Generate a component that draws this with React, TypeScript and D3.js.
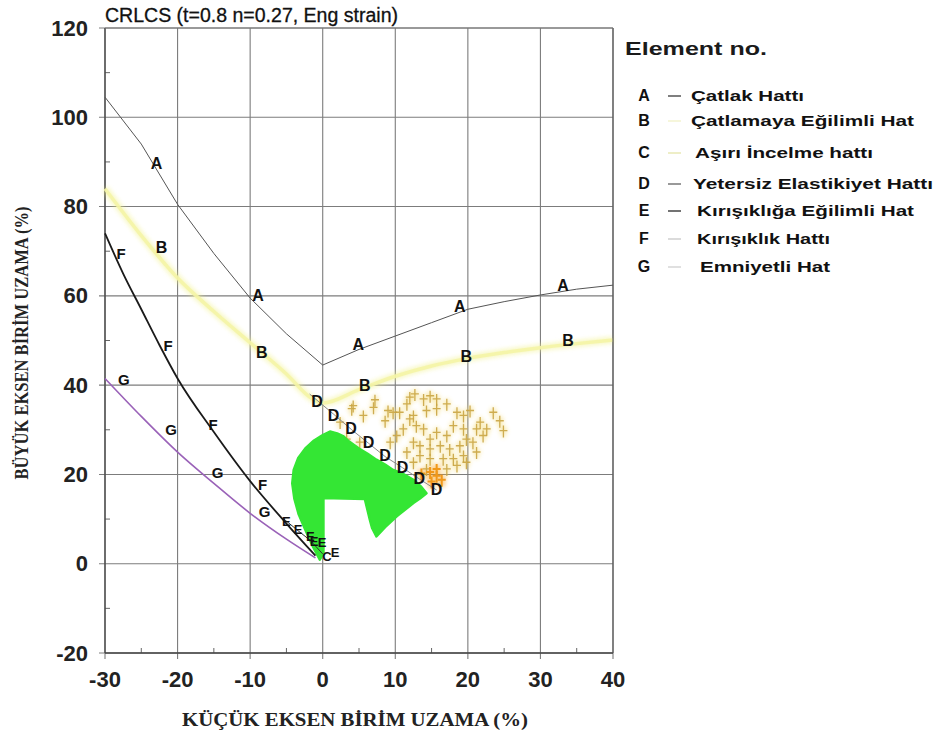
import React from "react";
import * as d3 from "d3";

type P = [number, number];

// axis ticks
const xTicks = [-30, -20, -10, 0, 10, 20, 30, 40];
const yTicks = [-20, 0, 20, 40, 60, 80, 100, 120];
const xMinorTicks = [-25, -15, -5, 5, 15, 25, 35];
const yMinorTicks = [-10, 10, 30, 50, 70, 90, 110];

// limit lines (minor strain %, major strain %)
const lineA: P[] = [[-30, 104.5], [-25, 94], [-20, 80.5], [-15, 69.5], [-10, 59.5], [-5, 51.5], [0, 44.5], [5, 48], [10, 51], [15, 54], [20, 57], [25, 58.7], [30, 60.2], [35, 61.5], [40, 62.4]];
const lineB: P[] = [[-30, 84], [-25, 73.5], [-20, 64], [-15, 56.5], [-10, 49.5], [-5, 42.5], [-1.5, 37], [0, 36], [5, 39], [10, 42], [15, 44.3], [20, 46], [25, 47.3], [30, 48.4], [35, 49.3], [40, 50.1]];
const lineD: P[] = [[-1.8, 38], [1.5, 33.5], [4, 30], [6.3, 27], [8.6, 24], [11, 21.5], [13.3, 19], [15.7, 16.5]];
const lineE: P[] = [[-5.5, 10.2], [-3.4, 7.4], [-1.7, 5.2], [0, 2.2]];
const lineF: P[] = [[-30, 74], [-27.5, 65], [-25, 57], [-22.5, 49], [-20, 41.5], [-15, 29.5], [-10, 18.5], [-5, 9], [-1, 1.8]];
const lineG: P[] = [[-30, 41.5], [-25, 33], [-20, 25], [-15, 18], [-10, 11.3], [-5, 5.5], [-1, 1.3]];

// letter markers along each line
const labelsA: P[] = [[-22.9, 89.6], [-8.9, 60], [4.9, 49], [18.9, 57.6], [33.1, 62.4]];
const labelsB: P[] = [[-22.2, 70.9], [-8.4, 47.4], [5.8, 40], [19.8, 46.5], [33.8, 50.1]];
const labelsC: P[] = [[0.6, 1.6]];
const labelsD: P[] = [[-0.8, 36.3], [1.5, 33.3], [3.9, 30.2], [6.3, 27.1], [8.6, 24.2], [11, 21.6], [13.3, 19], [15.7, 16.6]];
const labelsE: P[] = [[-5, 9.5], [-3.4, 7.6], [-1.7, 6.1], [-1.2, 5], [-0.1, 4.7], [1.7, 2.5]];
const labelsF: P[] = [[-27.8, 69.4], [-21.3, 48.8], [-15.1, 31.1], [-8.3, 17.7]];
const labelsG: P[] = [[-27.4, 41.2], [-20.9, 30], [-14.5, 20.4], [-8, 11.6]];

// outline of the dense green element cloud
const greenCloud: P[] = [
  [-0.4, 0.9], [-1.4, 4], [-2.4, 7.6], [-3.3, 11], [-3.9, 14.5], [-4.2, 18], [-4.0, 21], [-3.4, 23.6],
  [-2.4, 25.8], [-1.2, 27.6], [0, 28.8], [1, 29.6], [2, 29.2], [2.8, 28.6], [3.6, 27.4], [5, 25.8],
  [6.2, 24.6], [7.4, 23.3], [8.6, 22.2], [9.7, 21], [11, 20.2], [12.5, 18.8], [13.6, 17.2], [14.3, 15.8],
  [13.4, 14.6], [12.5, 13.6], [10.2, 10.6], [8.6, 8.2], [7.4, 6.1], [6.8, 8], [6.5, 9.8], [5.8, 14.5],
  [0.1, 14.7], [0.1, 2.4],
];

// scattered element strains (tan crosses)
const tanPoints: P[] = [
  [12.0, 37.1], [12.7, 37.8], [13.9, 36.7], [14.8, 37.4], [15.7, 36.7], [17.1, 35.6], [11.6, 35.6], [9.7, 33.7],
  [9.0, 34.1], [7.0, 34.8], [5.6, 33.0], [4.0, 34.5], [8.6, 31.8], [10.6, 33.7], [12.5, 33.0], [14.3, 34.1],
  [15.7, 34.5], [18.5, 33.7], [19.4, 33.0], [20.3, 34.1], [21.7, 31.5], [23.5, 33.7], [24.4, 31.8], [24.9, 29.6],
  [22.6, 30.0], [21.2, 30.0], [19.4, 30.0], [18.0, 30.7], [17.1, 28.5], [15.7, 29.2], [14.8, 27.7], [13.9, 30.0],
  [12.9, 30.7], [12.0, 32.2], [11.1, 30.0], [10.2, 28.5], [9.3, 27.0], [12.5, 27.0], [13.4, 26.2], [14.8, 25.5],
  [16.2, 26.2], [17.5, 25.5], [18.9, 26.2], [19.8, 27.7], [20.7, 27.0], [22.1, 28.5], [21.2, 24.8], [19.4, 24.0],
  [18.0, 23.3], [16.6, 23.3], [14.8, 23.3], [13.4, 24.0], [11.6, 24.8], [12.5, 22.5], [14.3, 21.0], [17.1, 21.0],
  [18.5, 21.8], [19.8, 22.5], [4.2, 35.2], [7.2, 36.5], [2.4, 31.5], [3.3, 27.7], [5.1, 27.0],
];
const orangePoints: P[] = [[15.7, 19.5], [14.8, 20.3], [15.7, 21.0], [13.6, 20.0], [16.4, 18.6], [15.0, 18.2]];

// legend
const legendLetters = ["A", "B", "C", "D", "E", "F", "G"];
const legendNames = [
  "Çatlak Hattı",
  "Çatlamaya Eğilimli Hat",
  "Aşırı İncelme hattı",
  "Yetersiz Elastikiyet Hattı",
  "Kırışıklığa Eğilimli Hat",
  "Kırışıklık Hattı",
  "Emniyetli Hat",
];

const SANS = "'Liberation Sans', Arial, sans-serif";
const SERIF = "'Liberation Serif', 'Times New Roman', serif";
const dashColors = ["#555", "#f3f3cf", "#e9e9b4", "#777", "#444", "#cfcfcf", "#d6d6d6"];
const legendRowY = [95, 120, 152, 183, 210, 238, 266];
const legendTextX = [691, 691, 695, 693, 697, 697, 700];
const legendTextW = [113, 223, 178, 240, 217, 133, 130];

export default function App() {
  const W = 939, H = 734;
  const x = d3.scaleLinear().domain([-30, 40]).range([105, 613]);
  const y = d3.scaleLinear().domain([-20, 120]).range([653, 28]);

  const straight = d3.line<P>().x((d) => x(d[0])).y((d) => y(d[1]));
  const smooth = d3.line<P>().x((d) => x(d[0])).y((d) => y(d[1])).curve(d3.curveMonotoneX);
  const closed = d3.line<P>().x((d) => x(d[0])).y((d) => y(d[1])).curve(d3.curveLinearClosed);

  const cross = (d: P) => {
    const cx = x(d[0]), cy = y(d[1]);
    return `M${cx},${cy - 6}V${cy + 6}M${cx - 4},${cy - 1}H${cx + 4}`;
  };

  const letters = (pts: P[], txt: string, size: number, weight: string) =>
    pts.map((d, i) => (
      <text key={txt + i} x={x(d[0])} y={y(d[1])} textAnchor="middle" dominantBaseline="central"
        fontFamily={SANS} fontSize={size} fontWeight={weight} fill="#111">{txt}</text>
    ));

  const x0 = x(-30), x1 = x(40), yTop = y(120), yBot = y(-20);

  return (
    <svg width={W} height={H} style={{ position: "absolute", left: 0, top: 0, background: "#fff" }}>
      <defs>
        <filter id="soft" x="-20%" y="-20%" width="140%" height="140%">
          <feGaussianBlur stdDeviation="2.2" />
        </filter>
      </defs>

      {/* title */}
      <text x={105} y={22} fontFamily={SANS} fontSize={20} fill="#111" stroke="#111" strokeWidth={0.3}
        textLength={293} lengthAdjust="spacingAndGlyphs">
        CRLCS (t=0.8 n=0.27, Eng strain)
      </text>

      {/* grid */}
      {xTicks.map((t) => (
        <line key={"gx" + t} x1={x(t)} x2={x(t)} y1={yTop} y2={yBot + 6} stroke="#7c7c7c" strokeWidth={1.1} />
      ))}
      {yTicks.map((t) => (
        <line key={"gy" + t} x1={x0 - 6} x2={x1} y1={y(t)} y2={y(t)} stroke="#7c7c7c" strokeWidth={1.1} />
      ))}
      {xMinorTicks.map((t) => (
        <line key={"mx" + t} x1={x(t)} x2={x(t)} y1={yBot} y2={yBot - 5} stroke="#666" strokeWidth={1} />
      ))}
      {yMinorTicks.map((t) => (
        <line key={"my" + t} x1={x0} x2={x0 + 5} y1={y(t)} y2={y(t)} stroke="#666" strokeWidth={1} />
      ))}
      <line x1={x0} x2={x0} y1={yTop} y2={yBot} stroke="#444" strokeWidth={1.3} />
      <line x1={x0} x2={x1} y1={yBot} y2={yBot} stroke="#444" strokeWidth={1.3} />

      {/* tick labels */}
      {yTicks.map((t) => (
        <text key={"ly" + t} x={88} y={y(t)} textAnchor="end" dominantBaseline="central"
          fontFamily={SANS} fontSize={22} fontWeight="bold" fill="#222">{t}</text>
      ))}
      {xTicks.map((t) => (
        <text key={"lx" + t} x={x(t)} y={679} textAnchor="middle" dominantBaseline="central"
          fontFamily={SANS} fontSize={22} fontWeight="bold" fill="#222">{t}</text>
      ))}

      {/* axis titles */}
      <text x={355} y={726} textAnchor="middle" fontFamily={SERIF} fontSize={19} fontWeight="bold" fill="#222"
        textLength={346} lengthAdjust="spacingAndGlyphs">KÜÇÜK EKSEN BİRİM UZAMA  (%)</text>
      <text transform={`translate(28,343) rotate(-90)`} textAnchor="middle" fontFamily={SERIF} fontSize={19}
        fontWeight="bold" fill="#222" textLength={273} lengthAdjust="spacingAndGlyphs">BÜYÜK EKSEN BİRİM UZAMA (%)</text>

      {/* pale yellow B line with glow */}
      <path d={smooth(lineB) || ""} fill="none" stroke="#f2f28a" strokeWidth={7} opacity={0.5} filter="url(#soft)" />
      <path d={smooth(lineB) || ""} fill="none" stroke="#f4f4a6" strokeWidth={3.5} opacity={0.9} />

      {/* scattered element strains */}
      <g filter="url(#soft)" opacity={0.45}>
        {tanPoints.map((d, i) => (
          <path key={"th" + i} d={cross(d)} stroke="#f3d45a" strokeWidth={4} fill="none" />
        ))}
        {orangePoints.map((d, i) => (
          <path key={"oh" + i} d={cross(d)} stroke="#f59a10" strokeWidth={7} fill="none" />
        ))}
      </g>
      {tanPoints.map((d, i) => (
        <path key={"t" + i} d={cross(d)} stroke="#c9a443" strokeWidth={1.3} fill="none" opacity={0.9} />
      ))}
      {orangePoints.map((d, i) => (
        <path key={"o" + i} d={cross(d)} stroke="#f0981a" strokeWidth={2} fill="none" />
      ))}

      {/* green element cloud */}
      <path d={closed(greenCloud) || ""} fill="#34e634" stroke="#34e634" strokeWidth={2.5} strokeLinejoin="round" />

      {/* limit lines */}
      <path d={straight(lineA) || ""} fill="none" stroke="#555" strokeWidth={1} />
      <path d={straight(lineD) || ""} fill="none" stroke="#8a8a8a" strokeWidth={1} />
      <path d={straight(lineE) || ""} fill="none" stroke="#333" strokeWidth={1} />
      <path d={smooth(lineF) || ""} fill="none" stroke="#1a1a1a" strokeWidth={1.8} />
      <path d={smooth(lineG) || ""} fill="none" stroke="#9a62b8" strokeWidth={1.6} />

      {/* letters */}
      {letters(labelsA, "A", 16, "bold")}
      {letters(labelsB, "B", 16, "bold")}
      {letters(labelsD, "D", 16, "bold")}
      {letters(labelsF, "F", 15, "bold")}
      {letters(labelsG, "G", 15, "bold")}
      {letters(labelsE, "E", 13, "bold")}
      {letters(labelsC, "C", 13, "bold")}

      {/* right frame */}
      <line x1={x1} x2={x1} y1={yTop} y2={yBot} stroke="#555" strokeWidth={1.1} />
      <line x1={x0} x2={x1} y1={yTop} y2={yTop} stroke="#777" strokeWidth={1} />

      {/* legend */}
      <text x={625} y={55} fontFamily={SANS} fontSize={18} fontWeight="bold" fill="#1a1a1a"
        textLength={142} lengthAdjust="spacingAndGlyphs">Element no.</text>
      {legendLetters.map((l, i) => (
        <g key={"lg" + l}>
          <text x={644} y={legendRowY[i]} textAnchor="middle" dominantBaseline="central" fontFamily={SANS}
            fontSize={16} fontWeight="bold" fill="#111">{l}</text>
          <line x1={668} x2={681} y1={legendRowY[i] + 1} y2={legendRowY[i] + 1} stroke={dashColors[i]} strokeWidth={1.5} />
          <text x={legendTextX[i]} y={legendRowY[i]} dominantBaseline="central" fontFamily={SANS} fontSize={15}
            fontWeight="bold" fill="#111" textLength={legendTextW[i]} lengthAdjust="spacingAndGlyphs">{legendNames[i]}</text>
        </g>
      ))}
    </svg>
  );
}
